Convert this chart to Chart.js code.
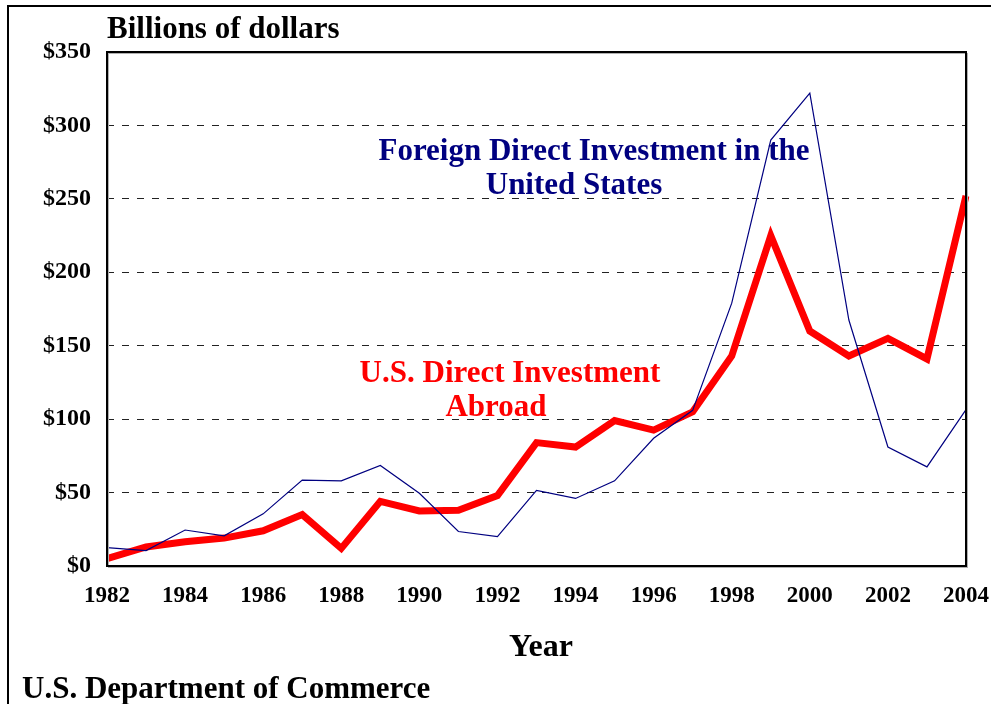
<!DOCTYPE html>
<html>
<head>
<meta charset="utf-8">
<script src="https://cdn.jsdelivr.net/npm/chart.js@4"></script>
<style>
  html, body { margin: 0; padding: 0; background: #fff; }
  #wrap { width: 991px; height: 704px; position: relative; }
</style>
</head>
<body>
<div id="wrap"><canvas id="fdiChart"></canvas></div>
<script>
const years = ["1982","1983","1984","1985","1986","1987","1988","1989","1990","1991","1992",
  "1993","1994","1995","1996","1997","1998","1999","2000","2001","2002","2003","2004"];
const usAbroad = [5, 13, 16.5, 19, 24, 35, 12, 44, 37.5, 38, 48,
  84, 81, 99, 92.5, 105, 143, 225, 160, 143, 155, 141, 252];
const foreignInUS = [12.5, 10.5, 24.5, 20.5, 35.5, 58.5, 58, 68.5, 49.5, 23.5, 20,
  51.5, 46, 58, 87, 106, 179, 290, 322, 167.5, 81, 67.5, 106.5];
const yTicks = [0, 50, 100, 150, 200, 250, 300, 350];

const serif = '"Liberation Serif", "Times New Roman", serif';

const decor = {
  id: "decor",
  afterDraw(chart) {
    const ctx = chart.ctx;
    const a = chart.chartArea;
    ctx.save();
    // outer frame
    ctx.strokeStyle = "#000";
    ctx.lineWidth = 2;
    ctx.beginPath();
    ctx.moveTo(991, 6);
    ctx.lineTo(8, 6);
    ctx.lineTo(8, 704);
    ctx.stroke();
    // plot border with light shadow
    ctx.strokeStyle = "#b0b0b0";
    ctx.lineWidth = 1;
    ctx.strokeRect(a.left + 1.5, a.top + 1.5, a.right - a.left, a.bottom - a.top);
    ctx.strokeStyle = "#000";
    ctx.lineWidth = 2;
    ctx.strokeRect(a.left, a.top, a.right - a.left, a.bottom - a.top);

    ctx.fillStyle = "#000";
    ctx.textBaseline = "alphabetic";
    ctx.font = "bold 31px " + serif;
    ctx.textAlign = "left";
    ctx.fillText("Billions of dollars", 107, 38);
    ctx.font = "bold 32px " + serif;
    ctx.textAlign = "center";
    ctx.fillText("Year", 541, 656);
    ctx.font = "bold 31px " + serif;
    ctx.textAlign = "left";
    ctx.fillText("U.S. Department of Commerce", 22, 698);

    ctx.font = "bold 31px " + serif;
    ctx.textAlign = "center";
    ctx.fillStyle = "#000080";
    ctx.fillText("Foreign Direct Investment in the", 594, 160);
    ctx.fillText("United States", 574, 194);
    ctx.fillStyle = "#ff0000";
    ctx.fillText("U.S. Direct Investment", 510, 382);
    ctx.fillText("Abroad", 496, 416);
    ctx.restore();
  }
};

new Chart(document.getElementById("fdiChart"), {
  type: "line",
  data: {
    labels: years,
    datasets: [
      {
        label: "Foreign Direct Investment in the United States",
        data: foreignInUS,
        borderColor: "#000080",
        borderWidth: 1.2,
        pointRadius: 0,
        tension: 0,
        fill: false
      },
      {
        label: "U.S. Direct Investment Abroad",
        data: usAbroad,
        borderColor: "#ff0000",
        borderWidth: 7,
        pointRadius: 0,
        tension: 0,
        fill: false,
        borderJoinStyle: "miter"
      }
    ]
  },
  options: {
    responsive: true,
    maintainAspectRatio: false,
    animation: false,
    layout: { padding: { top: 52, right: 25, left: 0, bottom: 0 } },
    plugins: {
      legend: { display: false },
      tooltip: { enabled: false }
    },
    scales: {
      x: {
        type: "category",
        offset: false,
        grid: { display: false, drawTicks: false },
        border: { display: false },
        afterFit(scale) {
          scale.height = 138;
          scale.paddingLeft = 0;
          scale.paddingRight = 0;
        },
        ticks: {
          autoSkip: false,
          maxRotation: 0,
          padding: 16,
          color: "#000",
          font: { family: serif, size: 23, weight: "bold" },
          callback(v, i) { return i % 2 === 0 ? years[i] : ""; }
        }
      },
      y: {
        min: 0,
        max: 350,
        afterFit(scale) { scale.width = 107; },
        afterBuildTicks(scale) { scale.ticks = yTicks.map(v => ({ value: v })); },
        grid: {
          color: (c) => (c.tick && c.tick.value > 0 && c.tick.value < 350) ? "#222" : "rgba(0,0,0,0)",
          lineWidth: 1,
          drawTicks: false
        },
        border: { display: false, dash: [7, 8] },
        ticks: {
          padding: 16,
          color: "#000",
          font: { family: serif, size: 24, weight: "bold" },
          callback(v) { return "$" + v; }
        }
      }
    }
  },
  plugins: [decor]
});
</script>
</body>
</html>
